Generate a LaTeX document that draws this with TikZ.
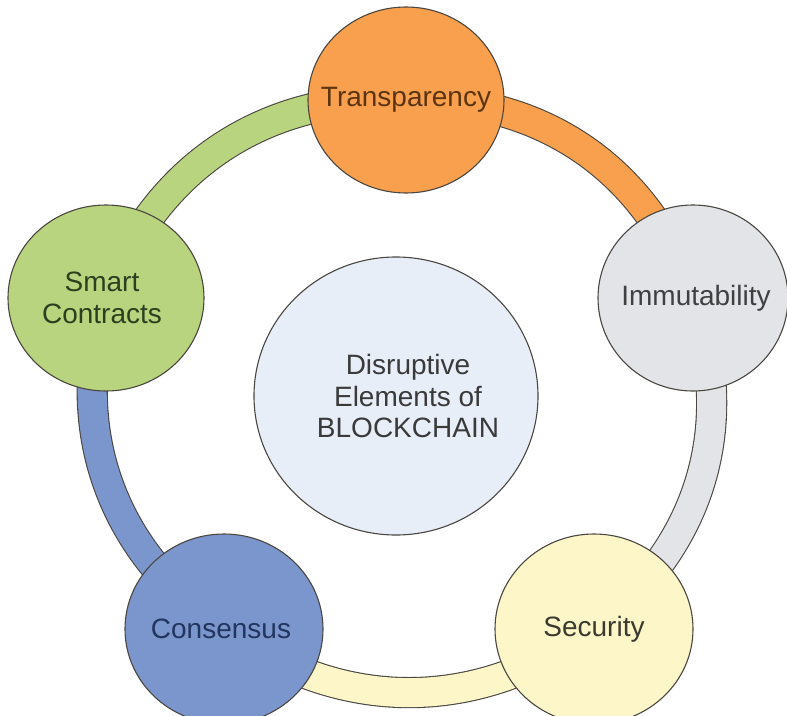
\documentclass[tikz,border=0pt]{standalone}
\usepackage{fontspec}
\setmainfont{Liberation Sans}
\usetikzlibrary{shapes.geometric,backgrounds}
\definecolor{edgec}{HTML}{4A4640}
\definecolor{orangeF}{HTML}{F8A04E}
\definecolor{greyF}{HTML}{E3E4E8}
\definecolor{yellowF}{HTML}{FCF6C8}
\definecolor{blueF}{HTML}{7B96CC}
\definecolor{greenF}{HTML}{B8D47E}
\definecolor{centerF}{HTML}{E8EEF8}
\definecolor{orangeT}{HTML}{5C3412}
\definecolor{greyT}{HTML}{404040}
\definecolor{yellowT}{HTML}{3A3A30}
\definecolor{blueT}{HTML}{22355F}
\definecolor{greenT}{HTML}{2C4020}
\definecolor{centerT}{HTML}{3A3A3A}
\begin{document}
\begin{tikzpicture}[x=1pt,y=-1pt,
  bubble/.style={ellipse, draw=edgec, line width=1.1pt, inner sep=0pt,
    minimum width=196pt, minimum height=186pt},
  txt/.style={font=\fontsize{28}{31.5}\selectfont, align=center, inner sep=0pt},
  ring/.style={draw=edgec, line width=1.1pt, double distance=29pt}
]
\useasboundingbox (0,0) rectangle (787,715);
% outer bubbles
\node[bubble, fill=orangeF] (T) at (406,100) {};
\node[bubble, fill=greyF, minimum width=190pt] (I) at (693,298) {};
\node[bubble, fill=yellowF, minimum width=198pt, minimum height=190pt] (S) at (594,629) {};
\node[bubble, fill=blueF, minimum width=198pt, minimum height=190pt] (C) at (224,629) {};
\node[bubble, fill=greenF] (SC) at (106,298) {};
% centre
\node[bubble, fill=centerF, minimum width=284pt, minimum height=278pt] (M) at (396,396) {};
% texts
\node[txt, text=orangeT] (Tt) at (T) {Transparency};
\node[txt, text=greyT] (It) at ([xshift=3pt]I.center) {Immutability};
\node[txt, text=yellowT] (St) at (S) {Security};
\node[txt, text=blueT] (Ct) at ([xshift=-3pt]C.center) {Consensus};
\node[txt, text=greenT] (SCt) at ([xshift=-4pt]SC.center) {Smart\\Contracts};
\node[txt, text=centerT] (Mt) at ([xshift=12pt]M.center) {Disruptive\\Elements of\\BLOCKCHAIN};
% ring segments
\begin{scope}[on background layer]
\draw[ring, double=orangeF] (T.center) to[bend left=36] (I.center);
\draw[ring, double=greyF] (I.center) to[bend left=36] (S.center);
\draw[ring, double=yellowF] (S.center) to[bend left=36] (C.center);
\draw[ring, double=blueF] (C.center) to[bend left=36] (SC.center);
\draw[ring, double=greenF] (SC.center) to[bend left=36] (T.center);
\end{scope}
\end{tikzpicture}
\end{document}
